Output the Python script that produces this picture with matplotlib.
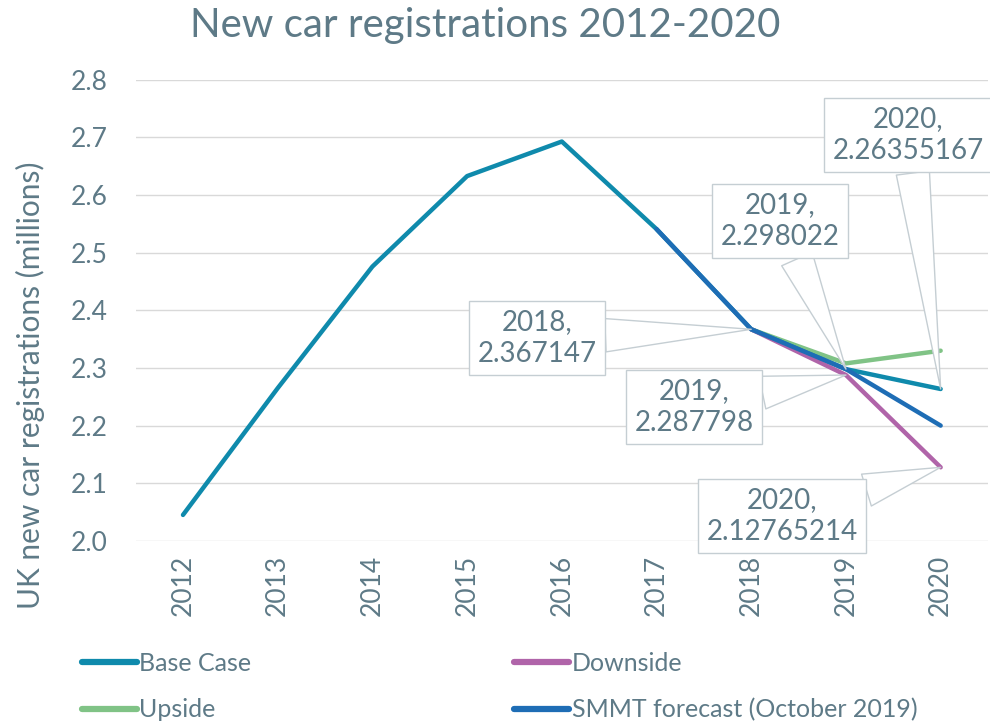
import numpy as np
import matplotlib.pyplot as plt

plt.rcParams['font.family'] = ['Lato', 'DejaVu Sans']

years = ['2012', '2013', '2014', '2015', '2016', '2017', '2018', '2019', '2020']
base_case = [2.045, 2.265, 2.476, 2.633, 2.693, 2.541, 2.367147, 2.298022, 2.26355167]
downside = [None, None, None, None, None, None, 2.367147, 2.287798, 2.12765214]
upside = [None, None, None, None, None, None, 2.367147, 2.308, 2.330]
smmt = [None, None, None, None, None, 2.541, 2.367147, 2.298, 2.200]

text_col = '#5E7A87'
grid_col = '#D9D9D9'
box_col = '#C5CED3'

def arr(v):
    return np.array([np.nan if a is None else a for a in v], dtype=float)

fig = plt.figure(figsize=(9.9, 7.26), dpi=100)
ax = fig.add_axes([0.137, 0.255, 0.861, 0.635])

x = np.arange(len(years))
l1, = ax.plot(x, arr(base_case), color='#0F8AAC', lw=3.2, solid_capstyle='round', label='Base Case', zorder=3)
l2, = ax.plot(x, arr(downside), color='#B064A9', lw=3.2, solid_capstyle='round', label='Downside', zorder=3)
l3, = ax.plot(x, arr(upside), color='#80C386', lw=3.2, solid_capstyle='round', label='Upside', zorder=2)
l4, = ax.plot(x, arr(smmt), color='#1E6DB5', lw=3.2, solid_capstyle='round', label='SMMT forecast (October 2019)', zorder=4)

ax.set_xlim(-0.5, len(years) - 0.5)
ax.set_ylim(2.0, 2.8)
ax.set_yticks(np.arange(2.0, 2.81, 0.1))
ax.set_yticklabels(['%.1f' % v for v in np.arange(2.0, 2.81, 0.1)])
ax.set_xticks(x)
ax.set_xticklabels(years, rotation=90)
ax.tick_params(axis='both', length=0, labelsize=19, colors=text_col)
ax.tick_params(axis='y', pad=20)
ax.tick_params(axis='x', pad=10)
ax.grid(axis='y', color=grid_col, lw=1)
ax.set_axisbelow(True)
for s in ax.spines.values():
    s.set_visible(False)

fig.text(30 / 990, 1 - 385 / 726, 'UK new car registrations (millions)', rotation=90,
         ha='center', va='center', fontsize=21.5, color=text_col)
fig.text(0.49, 0.965, 'New car registrations 2012-2020', ha='center', va='center',
         fontsize=29, color=text_col)

# data labels (callouts)
labels = [
    (6, base_case[6], '2018,\n2.367147', (537, 338)),
    (7, downside[7], '2019,\n2.287798', (694, 407)),
    (7, base_case[7], '2019,\n2.298022', (780, 221)),
    (8, base_case[8], '2020,\n2.26355167', (908, 135)),
    (8, downside[8], '2020,\n2.12765214', (782, 516)),
]
for xi, yi, txt, (px, py) in labels:
    ax.annotate(txt, xy=(xi, yi), xytext=(px / 990, 1 - py / 726), textcoords='figure fraction',
                ha='center', va='center', fontsize=20, color=text_col, linespacing=1.3,
                bbox=dict(boxstyle='square,pad=0.3', fc='white', ec=box_col, lw=1),
                arrowprops=dict(arrowstyle='wedge,tail_width=1.2,shrink_factor=0.5',
                                fc='white', ec=box_col, lw=1, shrinkA=0, shrinkB=0),
                zorder=6)

fig.legend([l1, l3, l2, l4], ['Base Case', 'Upside', 'Downside', 'SMMT forecast (October 2019)'],
           ncol=2, loc='lower left', bbox_to_anchor=(0.06, -0.025), frameon=False,
           fontsize=18, labelcolor=text_col, handlelength=2.2, handletextpad=0.1,
           columnspacing=10.5, labelspacing=0.95)
for h in fig.legends[0].legend_handles:
    h.set_linewidth(4.5)

fig.savefig('out.png', dpi=100)
